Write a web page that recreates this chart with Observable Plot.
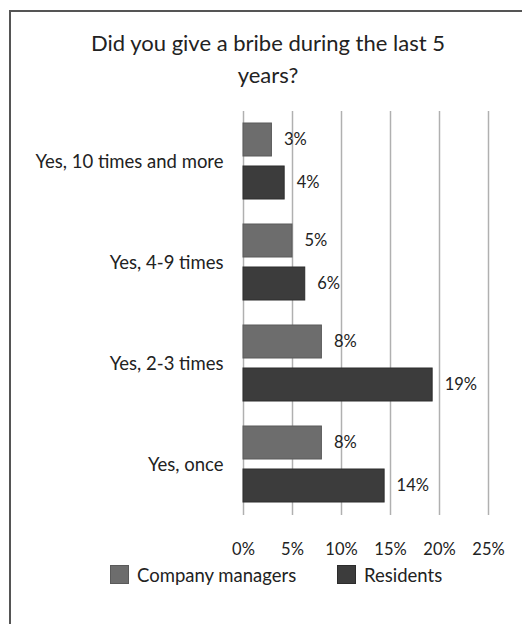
<!DOCTYPE html>
<html><head><meta charset="utf-8">
<script src="https://cdn.jsdelivr.net/npm/d3@7"></script>
<script src="https://cdn.jsdelivr.net/npm/@observablehq/plot@0.6"></script>
<style>
body{margin:0;background:#fff;font-family:Lato,sans-serif;color:#222;width:522px;height:624px;overflow:hidden;position:relative}
#frame{position:absolute;left:9px;top:10px;width:600px;height:700px;border-left:2px solid #555;border-top:2px solid #555;box-sizing:border-box}
#title{position:absolute;left:0;top:27px;width:536px;text-align:center;font-size:22px;line-height:32px;color:#222}
#chart{position:absolute;left:0;top:0}
.lg{position:absolute;top:565px;height:19px;display:flex;align-items:center;font-size:18.5px;color:#222}
.sw{width:19px;height:19px;margin-right:8px;box-sizing:border-box}
</style></head>
<body>
<div id="frame"></div>
<div id="chart"></div>
<div id="title">Did you give a bribe during the last 5<br>years?</div>
<div id="legend"></div>
<script>
const categories = ["Yes, 10 times and more", "Yes, 4-9 times", "Yes, 2-3 times", "Yes, once"];
const series = ["Company managers", "Residents"];
const companyValues = [2.9, 5.0, 8.0, 8.0];
const residentValues = [4.2, 6.3, 19.3, 14.4];
const xTicks = [0, 5, 10, 15, 20, 25];
const colors = ["#6d6d6d", "#3c3c3c"];
const strokes = ["#5a5a5a", "#2c2c2c"];

const data = [];
categories.forEach((c, i) => {
  data.push({category: c, series: series[0], value: companyValues[i]});
  data.push({category: c, series: series[1], value: residentValues[i]});
});

const chart = Plot.plot({
  width: 522,
  height: 560,
  marginTop: 110,
  marginBottom: 44,
  marginLeft: 243,
  marginRight: 34,
  style: {fontFamily: "Lato, sans-serif", color: "#222", background: "transparent"},
  x: {domain: [0, 25]},
  y: {domain: series, paddingInner: 0.23, paddingOuter: 0.28, axis: null},
  fy: {domain: categories, padding: 0},
  color: {domain: series, range: colors},
  marks: [
    Plot.gridX(xTicks, {stroke: "#b0b0b0", strokeOpacity: 1, strokeWidth: 1.5}),
    Plot.barX(data, {x: "value", y: "series", fy: "category", fill: "series",
      stroke: d => strokes[series.indexOf(d.series)], strokeWidth: 1}),
    Plot.text(data, {x: "value", y: "series", fy: "category", text: d => Math.round(d.value) + "%",
      textAnchor: "start", dx: 12, fontSize: 16.5, fill: "#222"}),
    Plot.axisX(xTicks, {tickSize: 0, tickPadding: 28, fontSize: 16.5, tickFormat: d => d + "%", fill: "#222", label: null}),
    Plot.axisFy({anchor: "left", tickSize: 0, tickPadding: 20, fontSize: 18.5, fill: "#222", label: null})
  ]
});
document.getElementById("chart").appendChild(chart);

const legend = document.getElementById("legend");
const legendX = [110, 337];
series.forEach((s, i) => {
  const item = document.createElement("div");
  item.className = "lg";
  item.style.left = legendX[i] + "px";
  const sw = document.createElement("div");
  sw.className = "sw";
  sw.style.background = colors[i];
  sw.style.border = "1px solid " + strokes[i];
  const t = document.createElement("span");
  t.textContent = s;
  item.appendChild(sw);
  item.appendChild(t);
  legend.appendChild(item);
});
</script>
</body></html>
